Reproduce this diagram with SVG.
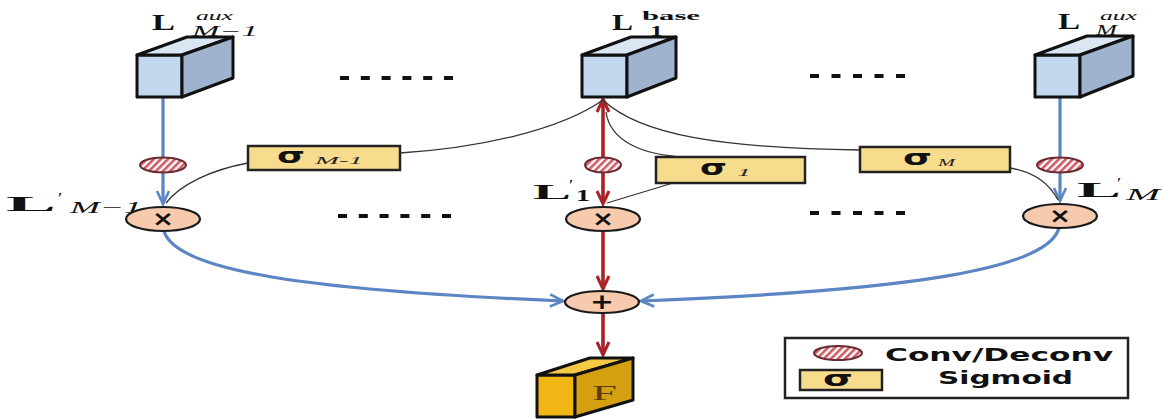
<svg xmlns="http://www.w3.org/2000/svg" width="1162" height="419" viewBox="0 0 1162 419">
<style>
.edge{stroke:#111;stroke-width:3;stroke-linejoin:round}
.front{fill:#c3d7ee}
.side{fill:#9fb3cf}
.top{fill:#dbe6f3}
.ffront{fill:#f1b614}
.fside{fill:#d59f12}
.ftop{fill:#f6c945}
.conv{fill:url(#stripes);stroke:#6a2a30;stroke-width:2}
.op{fill:#f7c9ad;stroke:#1a1a1a;stroke-width:2.2}
.opt{font-family:"DejaVu Sans",sans-serif;font-weight:bold;font-size:22px;fill:#111;text-anchor:middle}
.sbox{fill:#f8dc8e;stroke:#222;stroke-width:2.5}
.sig{font-family:"DejaVu Sans",sans-serif;font-weight:bold;font-size:22px;fill:#111}
.sub{font-family:"Liberation Serif",serif;font-style:italic;font-size:10px;fill:#222}
.mL{font-family:"Liberation Serif",serif;font-weight:bold;fill:#111}
.mi{font-family:"Liberation Serif",serif;font-style:italic;fill:#111}
.blue{fill:none;stroke:#5b86c3;stroke-width:3.2}
.red{fill:none;stroke:#a82328;stroke-width:3.6}
.thin{fill:none;stroke:#333;stroke-width:1.3}
.dots{stroke:#111;stroke-width:4}
.leg{font-family:"DejaVu Sans",sans-serif;font-weight:bold;font-size:17px;fill:#111}
</style>
<defs>
<pattern id="stripes" patternUnits="userSpaceOnUse" width="5" height="5" patternTransform="rotate(-45)">
<rect width="5" height="5" fill="#ffffff"/>
<rect width="5" height="2.6" fill="#cf5a63"/>
</pattern>
<marker id="ab" markerUnits="userSpaceOnUse" markerWidth="18" markerHeight="16" refX="15" refY="8" orient="auto">
<path d="M2,2 L15,8 L2,14" fill="none" stroke="#5b86c3" stroke-width="2.6"/>
</marker>
<marker id="ar" markerUnits="userSpaceOnUse" markerWidth="18" markerHeight="16" refX="15" refY="8" orient="auto-start-reverse">
<path d="M2,2 L15,8 L2,14" fill="none" stroke="#a82328" stroke-width="3"/>
</marker>
</defs>

<g id="connectors">
<path class="blue" d="M163 97 L163 204" marker-end="url(#ab)"/>
<path class="blue" d="M1060 97 L1060 201" marker-end="url(#ab)"/>
<path class="red" d="M603 99 L603 204" marker-start="url(#ar)" marker-end="url(#ar)"/>
<path class="red" d="M603 231 L603 289" marker-end="url(#ar)"/>
<path class="red" d="M603 313 L603 355" marker-end="url(#ar)"/>
<path class="blue" d="M164 231 C175 270 300 290 563 301" marker-end="url(#ab)"/>
<path class="blue" d="M1059 228 C1048 268 920 290 641 301" marker-end="url(#ab)"/>
<path class="thin" d="M400 153 C480 148 560 130 603 100"/>
<path class="thin" d="M603 100 C640 135 720 148 860 150"/>
<path class="thin" d="M606 112 C610 140 640 155 685 157"/>
<path class="thin" d="M248 163 C210 170 180 185 166 203"/>
<path class="thin" d="M673 183 L607 203"/>
<path class="thin" d="M1010 168 C1035 172 1050 185 1058 200"/>
</g>

<g id="dots">
<line class="dots" x1="340" y1="78" x2="453" y2="78" stroke-dasharray="9 11.8"/>
<line class="dots" x1="810" y1="76" x2="905" y2="76" stroke-dasharray="9 12.5"/>
<line class="dots" x1="338" y1="216" x2="451" y2="216" stroke-dasharray="9 11.8"/>
<line class="dots" x1="810" y1="213" x2="905" y2="213" stroke-dasharray="9 12.5"/>
</g>

<g id="cube-aux-m1">
<polygon class="front edge" points="137,55 182,55 182,97 137,97"/>
<polygon class="top edge" points="137,55 182,55 233,37 187,37"/>
<polygon class="side edge" points="182,55 233,37 233,78 182,97"/>
<text class="mL" x="152" y="30" font-size="24" textLength="23" lengthAdjust="spacingAndGlyphs">L</text>
<text class="mi" x="196" y="20" font-size="13" textLength="37" lengthAdjust="spacingAndGlyphs">aux</text>
<text class="mi" x="192" y="36" font-size="14" textLength="66" lengthAdjust="spacingAndGlyphs">M−1</text>
</g>

<g id="cube-base">
<polygon class="front edge" points="582,55 627,55 627,97 582,97"/>
<polygon class="top edge" points="582,55 627,55 676,37 631,37"/>
<polygon class="side edge" points="627,55 676,37 676,78 627,97"/>
<text class="mL" x="612" y="30" font-size="24" textLength="21" lengthAdjust="spacingAndGlyphs">L</text>
<text class="mL" x="642" y="20" font-size="13" textLength="58" lengthAdjust="spacingAndGlyphs">base</text>
<text class="mL" x="650" y="36" font-size="14" textLength="13" lengthAdjust="spacingAndGlyphs">1</text>
</g>

<g id="cube-aux-m">
<polygon class="front edge" points="1035,55 1080,55 1080,97 1035,97"/>
<polygon class="top edge" points="1035,55 1080,55 1133,36 1087,36"/>
<polygon class="side edge" points="1080,55 1133,36 1133,76 1080,97"/>
<text class="mL" x="1058" y="29" font-size="24" textLength="22" lengthAdjust="spacingAndGlyphs">L</text>
<text class="mi" x="1100" y="20" font-size="13" textLength="37" lengthAdjust="spacingAndGlyphs">aux</text>
<text class="mi" x="1096" y="35" font-size="14" textLength="21" lengthAdjust="spacingAndGlyphs">M</text>
</g>

<g id="conv-m1"><ellipse class="conv" cx="163" cy="165" rx="23" ry="7.5"/></g>
<g id="conv-1"><ellipse class="conv" cx="603" cy="165" rx="18" ry="7.5"/></g>
<g id="conv-m"><ellipse class="conv" cx="1060" cy="165" rx="23" ry="7.5"/></g>

<g id="sigma-m1">
<rect class="sbox" x="248" y="146" width="152" height="24"/>
<text class="sig" x="277" y="163" textLength="28" lengthAdjust="spacingAndGlyphs">σ</text>
<text class="sub" x="315" y="164" textLength="48" lengthAdjust="spacingAndGlyphs">M-1</text>
</g>
<g id="sigma-1">
<rect class="sbox" x="656" y="157" width="149" height="26"/>
<text class="sig" x="700" y="175" textLength="27" lengthAdjust="spacingAndGlyphs">σ</text>
<text class="sub" x="737" y="176" textLength="14" lengthAdjust="spacingAndGlyphs">1</text>
</g>
<g id="sigma-m">
<rect class="sbox" x="860" y="147" width="150" height="25"/>
<text class="sig" x="903" y="165" textLength="29" lengthAdjust="spacingAndGlyphs">σ</text>
<text class="sub" x="938" y="166" textLength="17" lengthAdjust="spacingAndGlyphs">M</text>
</g>

<g id="label-Lm1">
<text class="mL" x="6" y="211" font-size="22" textLength="50" lengthAdjust="spacingAndGlyphs">L</text>
<text class="mL" x="58" y="203" font-size="15">′</text>
<text class="mi" x="70" y="213" font-size="16" textLength="72" lengthAdjust="spacingAndGlyphs">M−1</text>
</g>
<g id="label-L1">
<text class="mL" x="533" y="199" font-size="22" textLength="38" lengthAdjust="spacingAndGlyphs">L</text>
<text class="mL" x="569" y="190" font-size="15">′</text>
<text class="mL" x="576" y="201" font-size="16" textLength="14" lengthAdjust="spacingAndGlyphs">1</text>
</g>
<g id="label-Lm">
<text class="mL" x="1077" y="197" font-size="22" textLength="44" lengthAdjust="spacingAndGlyphs">L</text>
<text class="mL" x="1117" y="188" font-size="15">′</text>
<text class="mi" x="1126" y="200" font-size="16" textLength="34" lengthAdjust="spacingAndGlyphs">M</text>
</g>

<g id="mul-m1"><ellipse class="op" cx="163" cy="219" rx="37" ry="12"/><text class="opt" x="163" y="226" textLength="22" lengthAdjust="spacingAndGlyphs">×</text></g>
<g id="mul-1"><ellipse class="op" cx="603" cy="219" rx="37" ry="12"/><text class="opt" x="603" y="226" textLength="22" lengthAdjust="spacingAndGlyphs">×</text></g>
<g id="mul-m"><ellipse class="op" cx="1060" cy="216" rx="37" ry="12"/><text class="opt" x="1060" y="223" textLength="22" lengthAdjust="spacingAndGlyphs">×</text></g>
<g id="sum"><ellipse class="op" cx="602" cy="302" rx="37" ry="11"/><text class="opt" x="602" y="309" textLength="24" lengthAdjust="spacingAndGlyphs">+</text></g>

<g id="cube-F">
<polygon class="ffront edge" points="537,375 575,375 575,417 537,417"/>
<polygon class="ftop edge" points="537,375 575,375 633,358 590,358"/>
<polygon class="fside edge" points="575,375 633,358 633,400 575,417"/>
<text x="592" y="400" font-family="Liberation Serif,serif" font-size="21" fill="#5a3c05" textLength="25" lengthAdjust="spacingAndGlyphs">F</text>
</g>

<g id="legend">
<rect x="785" y="338" width="343" height="60" fill="#fff" stroke="#222" stroke-width="2.5"/>
<ellipse class="conv" cx="838" cy="353" rx="24" ry="7"/>
<text class="leg" x="885" y="361" textLength="228" lengthAdjust="spacingAndGlyphs">Conv/Deconv</text>
<rect class="sbox" x="800" y="370" width="82" height="20"/>
<text class="sig" x="823" y="386" font-size="20" textLength="30" lengthAdjust="spacingAndGlyphs">σ</text>
<text class="leg" x="938" y="384" textLength="135" lengthAdjust="spacingAndGlyphs">Sigmoid</text>
</g>
</svg>
